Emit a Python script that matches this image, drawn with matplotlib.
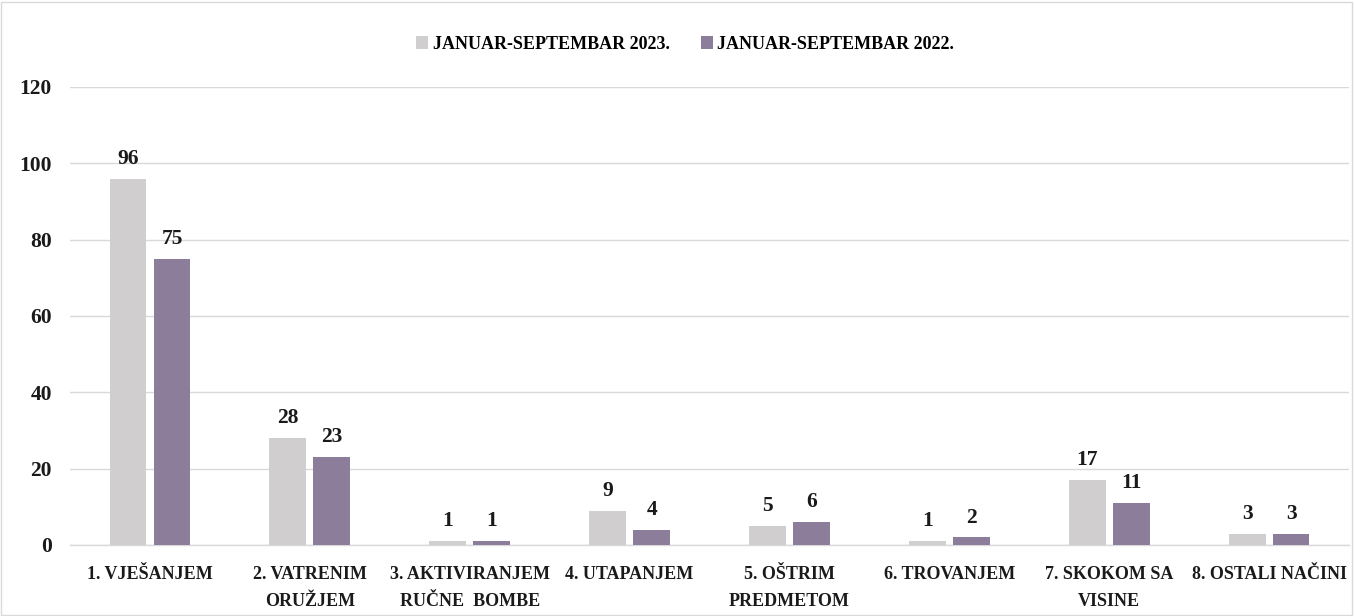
import matplotlib
matplotlib.use("Agg")
import matplotlib.pyplot as plt
import numpy as np
from matplotlib.patches import Rectangle

categories = ["1. VJEŠANJEM", "2. VATRENIM\nORUŽJEM", "3. AKTIVIRANJEM\nRUČNE  BOMBE",
              "4. UTAPANJEM", "5. OŠTRIM\nPREDMETOM", "6. TROVANJEM",
              "7. SKOKOM SA\nVISINE", "8. OSTALI NAČINI"]
series_names = ["JANUAR-SEPTEMBAR 2023.", "JANUAR-SEPTEMBAR 2022."]
values_2023 = [96, 28, 1, 9, 5, 1, 17, 3]
values_2022 = [75, 23, 1, 4, 6, 2, 11, 3]
yticks = [0, 20, 40, 60, 80, 100, 120]

c23 = "#D0CECE"
c22 = "#8C7E9A"
tc = "#1a1a1a"

plt.rcParams['font.family'] = ['Liberation Serif', 'DejaVu Serif']
plt.rcParams['font.weight'] = 'bold'

fig = plt.figure(figsize=(13.55, 6.16), dpi=100)
ax = fig.add_axes([0.0517, 0.1153, 0.9439, 0.7435])

x = np.arange(len(categories))
w = 0.23
gap = 0.045
b1 = ax.bar(x - (w + gap) / 2, values_2023, w, color=c23, label=series_names[0], zorder=3)
b2 = ax.bar(x + (w + gap) / 2, values_2022, w, color=c22, label=series_names[1], zorder=3)

for bars, vals in ((b1, values_2023), (b2, values_2022)):
    for r, v in zip(bars, vals):
        ax.annotate(str(v), (r.get_x() + r.get_width() / 2, v), xytext=(0, 7),
                    textcoords="offset points", ha="center", va="bottom",
                    fontsize=15.5, fontweight="bold", color=tc)

ax.set_xlim(-0.5, len(categories) - 0.5)
ax.set_ylim(0, 120)
ax.set_yticks(yticks)
ax.set_yticklabels([str(t) for t in yticks], fontsize=15.5, fontweight="bold", color=tc)
ax.set_xticks(x)
ax.set_xticklabels(categories, fontsize=13, fontweight="bold", color=tc, linespacing=1.75)
ax.tick_params(axis="both", length=0)
ax.tick_params(axis="y", pad=13)
ax.tick_params(axis="x", pad=15)
ax.grid(axis="y", color="#D9D9D9", linewidth=1, zorder=0)
for s in ("left", "right", "top"):
    ax.spines[s].set_visible(False)
ax.spines["bottom"].set_color("#D9D9D9")
ax.spines["bottom"].set_linewidth(1)

leg = fig.legend(loc="center", bbox_to_anchor=(0.5058, 0.928), ncol=2, frameon=False,
                 handlelength=0.65, handleheight=0.65, handletextpad=0.25,
                 columnspacing=1.75, prop={'weight': 'bold', 'size': 13})

fig.patches.append(Rectangle((0.001, 0.002), 0.997, 0.995, transform=fig.transFigure,
                             fill=False, edgecolor="#D9D9D9", linewidth=1))

fig.savefig("out.png", dpi=100)
